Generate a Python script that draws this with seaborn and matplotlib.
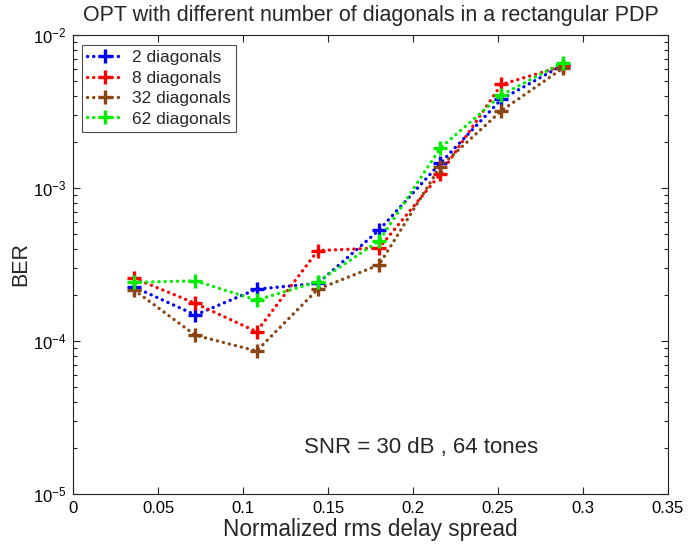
import matplotlib
matplotlib.use("Agg")
import matplotlib.pyplot as plt
import seaborn as sns
import pandas as pd
import numpy as np
from matplotlib.ticker import LogLocator, NullFormatter

delay_spread = [0.036, 0.072, 0.108, 0.144, 0.180, 0.216, 0.252, 0.288]
ber_2 = [2.25e-4, 1.48e-4, 2.18e-4, 2.38e-4, 5.3e-4, 1.45e-3, 3.8e-3, 6.35e-3]
ber_8 = [2.57e-4, 1.76e-4, 1.15e-4, 3.9e-4, 4.05e-4, 1.23e-3, 4.75e-3, 6.25e-3]
ber_32 = [2.15e-4, 1.09e-4, 0.86e-4, 2.18e-4, 3.14e-4, 1.38e-3, 3.2e-3, 6.05e-3]
ber_62 = [2.42e-4, 2.47e-4, 1.85e-4, 2.44e-4, 4.5e-4, 1.82e-3, 4.05e-3, 6.6e-3]
labels = ["2 diagonals", "8 diagonals", "32 diagonals", "62 diagonals"]
colors = ["#0000ff", "#ff0000", "#8b4513", "#00ee00"]

rows = []
for lab, vals in zip(labels, [ber_2, ber_8, ber_32, ber_62]):
    for x, y in zip(delay_spread, vals):
        rows.append({"x": x, "BER": y, "series": lab})
df = pd.DataFrame(rows)

sns.set_theme(style="ticks")
plt.rcParams["font.family"] = ["Liberation Sans", "DejaVu Sans"]
plt.rcParams["mathtext.fontset"] = "custom"
plt.rcParams["mathtext.rm"] = "Liberation Sans"

fig = plt.figure(figsize=(6.89, 5.47), dpi=100)
ax = fig.add_axes([0.106, 0.097, 0.8635, 0.839])

for lab, col in zip(labels, colors):
    sub = df[df["series"] == lab]
    sns.lineplot(data=sub, x="x", y="BER", ax=ax, color=col, label=lab,
                 marker="+", markersize=10, markeredgewidth=2.4,
                 markeredgecolor=col, markerfacecolor=col,
                 linewidth=2.4, linestyle=(0, (0.05, 1.8)),
                 dash_capstyle="round", estimator=None, sort=False)

ax.set_yscale("log")
ax.set_xlim(0, 0.35)
ax.set_ylim(1e-5, 1e-2)
ax.set_xticks([0, 0.05, 0.1, 0.15, 0.2, 0.25, 0.3, 0.35])
ax.set_xticklabels(["0", "0.05", "0.1", "0.15", "0.2", "0.25", "0.3", "0.35"])
ax.yaxis.set_major_locator(LogLocator(base=10, numticks=10))
ax.yaxis.set_minor_locator(LogLocator(base=10, subs=np.arange(2, 10), numticks=20))
ax.yaxis.set_minor_formatter(NullFormatter())
ax.tick_params(which="both", direction="in", top=True, right=True, labelsize=12,
               pad=5, colors="#222222", labelcolor="black")
ax.tick_params(which="major", length=5, width=0.8)
ax.tick_params(which="minor", length=3, width=0.8)
for s in ax.spines.values():
    s.set_linewidth(0.8)
    s.set_color("#222222")

ax.set_xlabel("Normalized rms delay spread", fontsize=16.3, labelpad=1.5)
ax.set_ylabel("BER", fontsize=15.5, labelpad=1)
ax.set_title("OPT with different number of diagonals in a rectangular PDP", fontsize=15.5, pad=10)
ax.text(0.136, 2.0e-5, "SNR = 30 dB , 64 tones", fontsize=16, va="center", ha="left")

leg = ax.legend(loc="upper left", fontsize=12.5, frameon=True, fancybox=False,
                edgecolor="#222222", handlelength=2.0, borderpad=0.3,
                labelspacing=0.3, handletextpad=0.6, borderaxespad=0,
                bbox_to_anchor=(0.015, 0.978))
leg.get_frame().set_linewidth(0.8)

fig.savefig("out.png", dpi=100)
